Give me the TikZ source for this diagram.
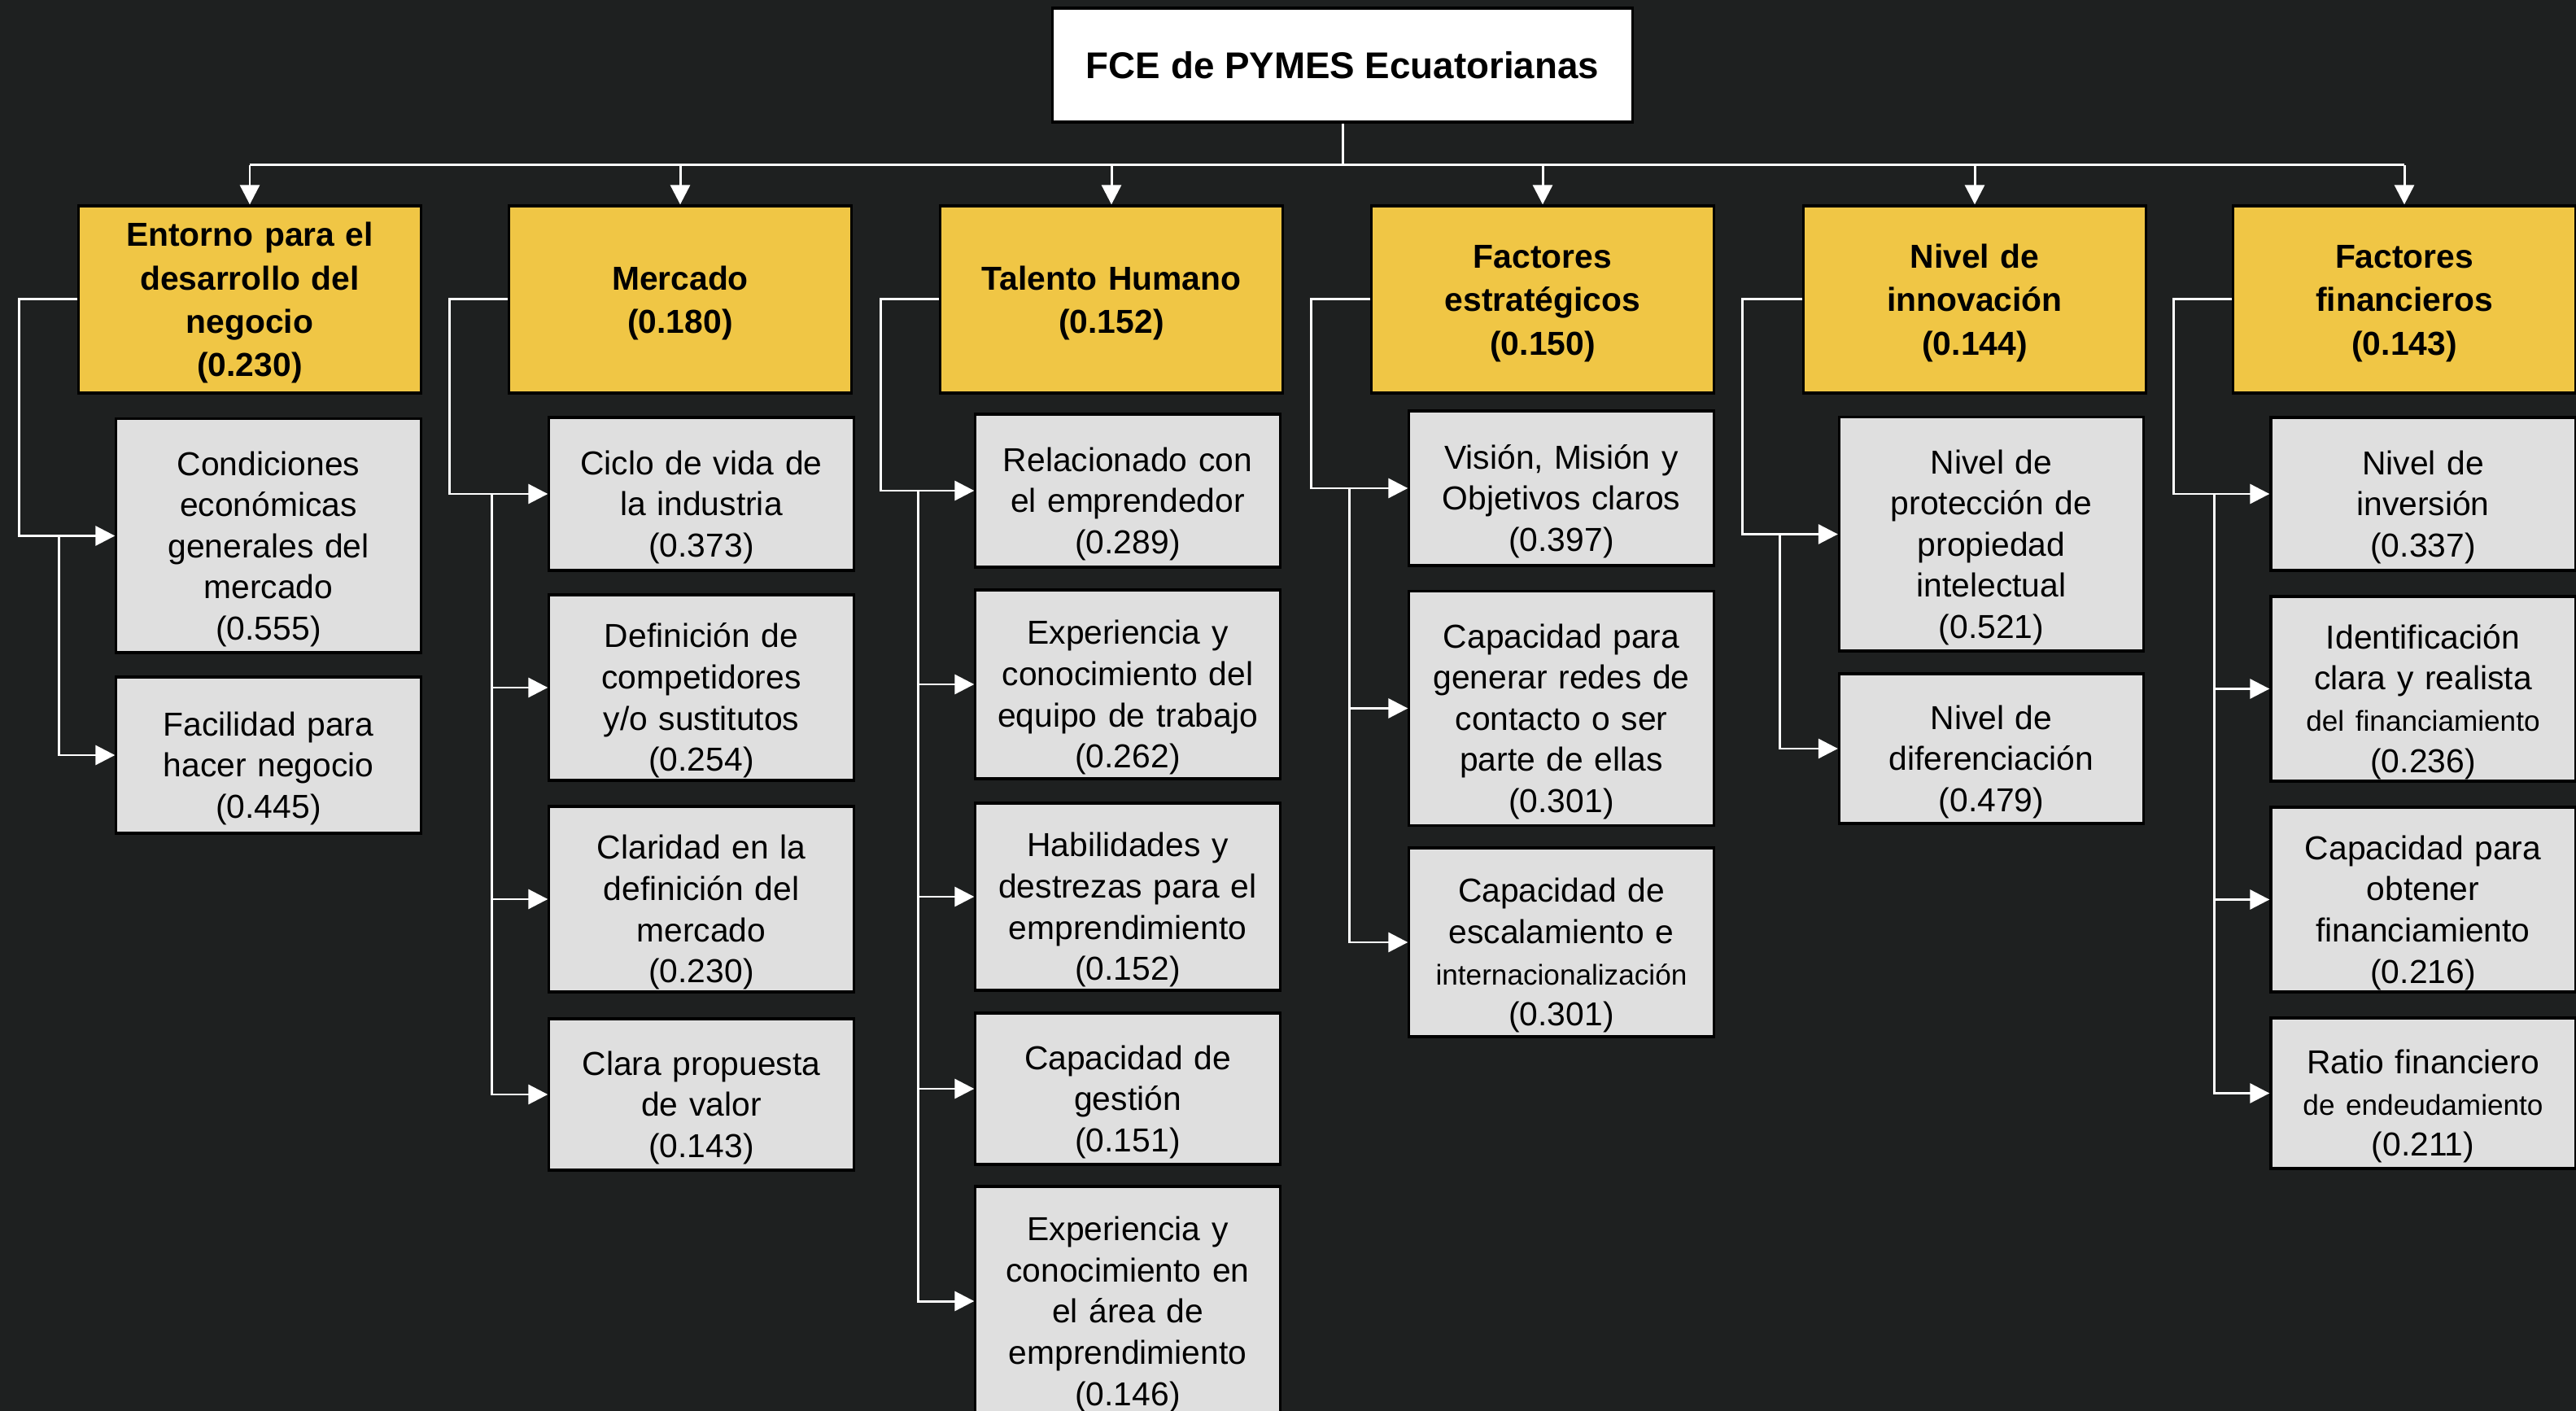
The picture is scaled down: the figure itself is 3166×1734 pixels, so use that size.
\documentclass[tikz,border=0pt]{standalone}
\usepackage{fontspec}
\setmainfont{Liberation Sans}
\usetikzlibrary{arrows.meta}
\definecolor{bgc}{RGB}{30,32,32}
\definecolor{hdrc}{RGB}{240,198,69}
\definecolor{subc}{RGB}{223,223,223}
\begin{document}
\begin{tikzpicture}[x=0.01cm,y=-0.01cm,
 conn/.style={draw=white,line width=0.85pt},
 arr/.style={conn,-{Triangle[length=0.24cm,width=0.24cm]}},
 rootbox/.style={draw=black,line width=0.9pt,fill=white,minimum width=7.13cm,minimum height=1.40cm,align=center,inner sep=0pt,font=\bfseries\fontsize{13}{16}\selectfont},
 hdr/.style={draw=black,line width=0.9pt,fill=hdrc,minimum width=4.2cm,minimum height=2.3cm,text width=4.0cm,align=center,inner sep=0pt,font=\bfseries\fontsize{11.6}{15.2}\selectfont,execute at begin node={\rule{0pt}{0.38cm}}},
 sub/.style={draw=black,line width=0.9pt,fill=subc,minimum width=3.74cm,text width=3.6cm,align=center,inner sep=0pt,font=\fontsize{11.6}{14.4}\selectfont,execute at begin node={\rule{0pt}{0.62cm}}}
]
\fill[bgc] (0,0) rectangle (3166,1734);
\useasboundingbox (0,0) rectangle (3166,1734);
\newcommand{\smtxt}[1]{{\fontsize{10}{14.4}\selectfont #1}}

% root
\node[rootbox] (root) at (1650,80) {FCE de PYMES Ecuatorianas};

% headers
\node[hdr] (h1) at (307,368) {Entorno para el\\desarrollo del\\negocio\\(0.230)};
\node[hdr] (h2) at (836,368) {Mercado\\(0.180)};
\node[hdr] (h3) at (1366,368) {Talento Humano\\(0.152)};
\node[hdr] (h4) at (1896,368) {Factores\\estratégicos\\(0.150)};
\node[hdr] (h5) at (2427,368) {Nivel de\\innovación\\(0.144)};
\node[hdr] (h6) at (2955,368) {Factores\\financieros\\(0.143)};

% column 1
\node[sub,minimum height=2.87cm] (s11) at (330,658.5) {Condiciones\\económicas\\generales del\\mercado\\(0.555)};
\node[sub,minimum height=1.92cm] (s12) at (330,928) {Facilidad para\\hacer negocio\\(0.445)};
% column 2
\node[sub,minimum height=1.88cm] (s21) at (862,607) {Ciclo de vida de\\la industria\\(0.373)};
\node[sub,minimum height=2.28cm] (s22) at (862,845) {Definición de\\competidores\\y/o sustitutos\\(0.254)};
\node[sub,minimum height=2.28cm] (s23) at (862,1105) {Claridad en la\\definición del\\mercado\\(0.230)};
\node[sub,minimum height=1.86cm] (s24) at (862,1345) {Clara propuesta\\de valor\\(0.143)};
% column 3
\node[sub,minimum height=1.88cm] (s31) at (1386,603) {Relacionado con\\el emprendedor\\(0.289)};
\node[sub,minimum height=2.32cm] (s32) at (1386,841) {Experiencia y\\conocimiento del\\equipo de trabajo\\(0.262)};
\node[sub,minimum height=2.30cm] (s33) at (1386,1102) {Habilidades y\\destrezas para el\\emprendimiento\\(0.152)};
\node[sub,minimum height=1.86cm] (s34) at (1386,1338) {Capacidad de\\gestión\\(0.151)};
\node[sub,minimum height=2.82cm] (s35) at (1386,1599) {Experiencia y\\conocimiento en\\el área de\\emprendimiento\\(0.146)};
% column 4
\node[sub,minimum height=1.90cm] (s41) at (1919,600) {Visión, Misión y\\Objetivos claros\\(0.397)};
\node[sub,minimum height=2.87cm] (s42) at (1919,870.5) {Capacidad para\\generar redes de\\contacto o ser\\parte de ellas\\(0.301)};
\node[sub,minimum height=2.32cm] (s43) at (1919,1158) {Capacidad de\\escalamiento e\\\smtxt{internacionalización}\\(0.301)};
% column 5
\node[sub,minimum height=2.87cm] (s51) at (2447.5,656.5) {Nivel de\\protección de\\propiedad\\intelectual\\(0.521)};
\node[sub,minimum height=1.84cm] (s52) at (2447.5,920) {Nivel de\\diferenciación\\(0.479)};
% column 6
\node[sub,minimum height=1.88cm] (s61) at (2978,607) {Nivel de\\inversión\\(0.337)};
\node[sub,minimum height=2.27cm] (s62) at (2978,846.5) {Identificación\\clara y realista\\\smtxt{del financiamiento}\\(0.236)};
\node[sub,minimum height=2.27cm] (s63) at (2978,1105.5) {Capacidad para\\obtener\\financiamiento\\(0.216)};
\node[sub,minimum height=1.85cm] (s64) at (2978,1343.5) {Ratio financiero\\\smtxt{de endeudamiento}\\(0.211)};

% top connectors
\coordinate (bar) at (1650,203);
\draw[conn] (root.south) -- (bar);
\draw[conn] (h1.north |- bar) -- (h6.north |- bar);
\foreach \h in {h1,h2,h3,h4,h5,h6}{
  \draw[arr] (\h.north |- bar) -- (\h.north);
}

% column connectors
\draw[arr] (h1.west) -- ++(-72,0) |- (s11.west);
\draw[arr] (s11.west) ++(-69,0) |- (s12.west);

\draw[arr] (h2.west) -- ++(-72,0) |- (s21.west);
\foreach \s in {s22,s23,s24}{\draw[arr] (s21.west) ++(-69,0) |- (\s.west);}

\draw[arr] (h3.west) -- ++(-72,0) |- (s31.west);
\foreach \s in {s32,s33,s34,s35}{\draw[arr] (s31.west) ++(-69,0) |- (\s.west);}

\draw[arr] (h4.west) -- ++(-73,0) |- (s41.west);
\foreach \s in {s42,s43}{\draw[arr] (s41.west) ++(-72,0) |- (\s.west);}

\draw[arr] (h5.west) -- ++(-74,0) |- (s51.west);
\draw[arr] (s51.west) ++(-71,0) |- (s52.west);

\draw[arr] (h6.west) -- ++(-72,0) |- (s61.west);
\foreach \s in {s62,s63,s64}{\draw[arr] (s61.west) ++(-68,0) |- (\s.west);}
\end{tikzpicture}
\end{document}
